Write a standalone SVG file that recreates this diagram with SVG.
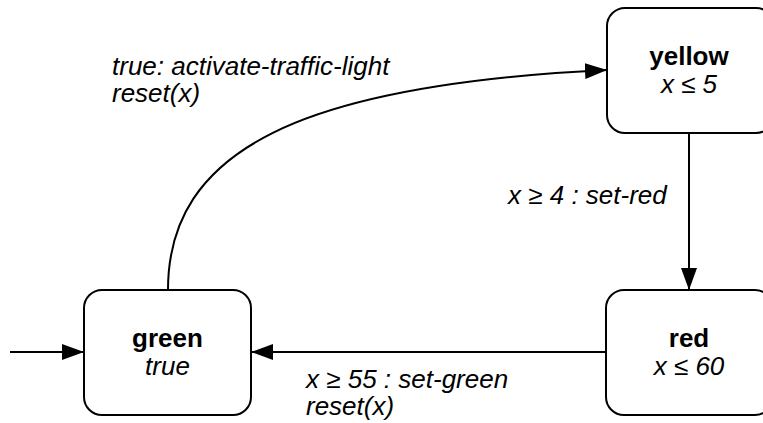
<svg xmlns="http://www.w3.org/2000/svg" width="763" height="423" viewBox="0 0 763 423">
  <style>
    .state { fill: #ffffff; stroke: #000000; stroke-width: 2; }
    .edge { fill: none; stroke: #000000; stroke-width: 2; }
    text { font-family: "Liberation Sans", Arial, sans-serif; font-size: 26px; fill: #000000; }
    .name { font-weight: bold; text-anchor: middle; }
    .inv { font-style: italic; text-anchor: middle; }
    .label { font-style: italic; }
  </style>
  <defs>
    <marker id="arrow" viewBox="0 0 22 16" refX="22" refY="8" markerWidth="22" markerHeight="16" markerUnits="userSpaceOnUse" orient="auto">
      <path d="M0,0 L22,8 L0,16 Z" fill="#000000"/>
    </marker>
  </defs>

  <rect width="763" height="423" fill="#ffffff"/>

  <!-- transitions -->
  <g id="edges">
    <path class="edge" d="M10,352 L84,352" marker-end="url(#arrow)"/>
    <path class="edge" d="M168,290 C168,150 300,85 607,70" marker-end="url(#arrow)"/>
    <path class="edge" d="M689,133 L689,290" marker-end="url(#arrow)"/>
    <path class="edge" d="M606,352 L251,352" marker-end="url(#arrow)"/>
    <text class="label" x="112" y="75">true: activate-traffic-light</text>
    <text class="label" x="112" y="102">reset(x)</text>
    <text class="label" x="508" y="204">x ≥ 4 : set-red</text>
    <text class="label" x="306" y="388">x ≥ 55 : set-green</text>
    <text class="label" x="306" y="415">reset(x)</text>
  </g>

  <!-- locations -->
  <g id="green">
    <rect class="state" x="84" y="290" width="167" height="125" rx="18"/>
    <text class="name" x="167.5" y="347">green</text>
    <text class="inv" x="167.5" y="375">true</text>
  </g>
  <g id="yellow">
    <rect class="state" x="607" y="8" width="167" height="125" rx="18"/>
    <text class="name" x="689" y="65">yellow</text>
    <text class="inv" x="689" y="93">x ≤ 5</text>
  </g>
  <g id="red">
    <rect class="state" x="606" y="290" width="167" height="125" rx="18"/>
    <text class="name" x="689" y="347">red</text>
    <text class="inv" x="689" y="375">x ≤ 60</text>
  </g>
</svg>
